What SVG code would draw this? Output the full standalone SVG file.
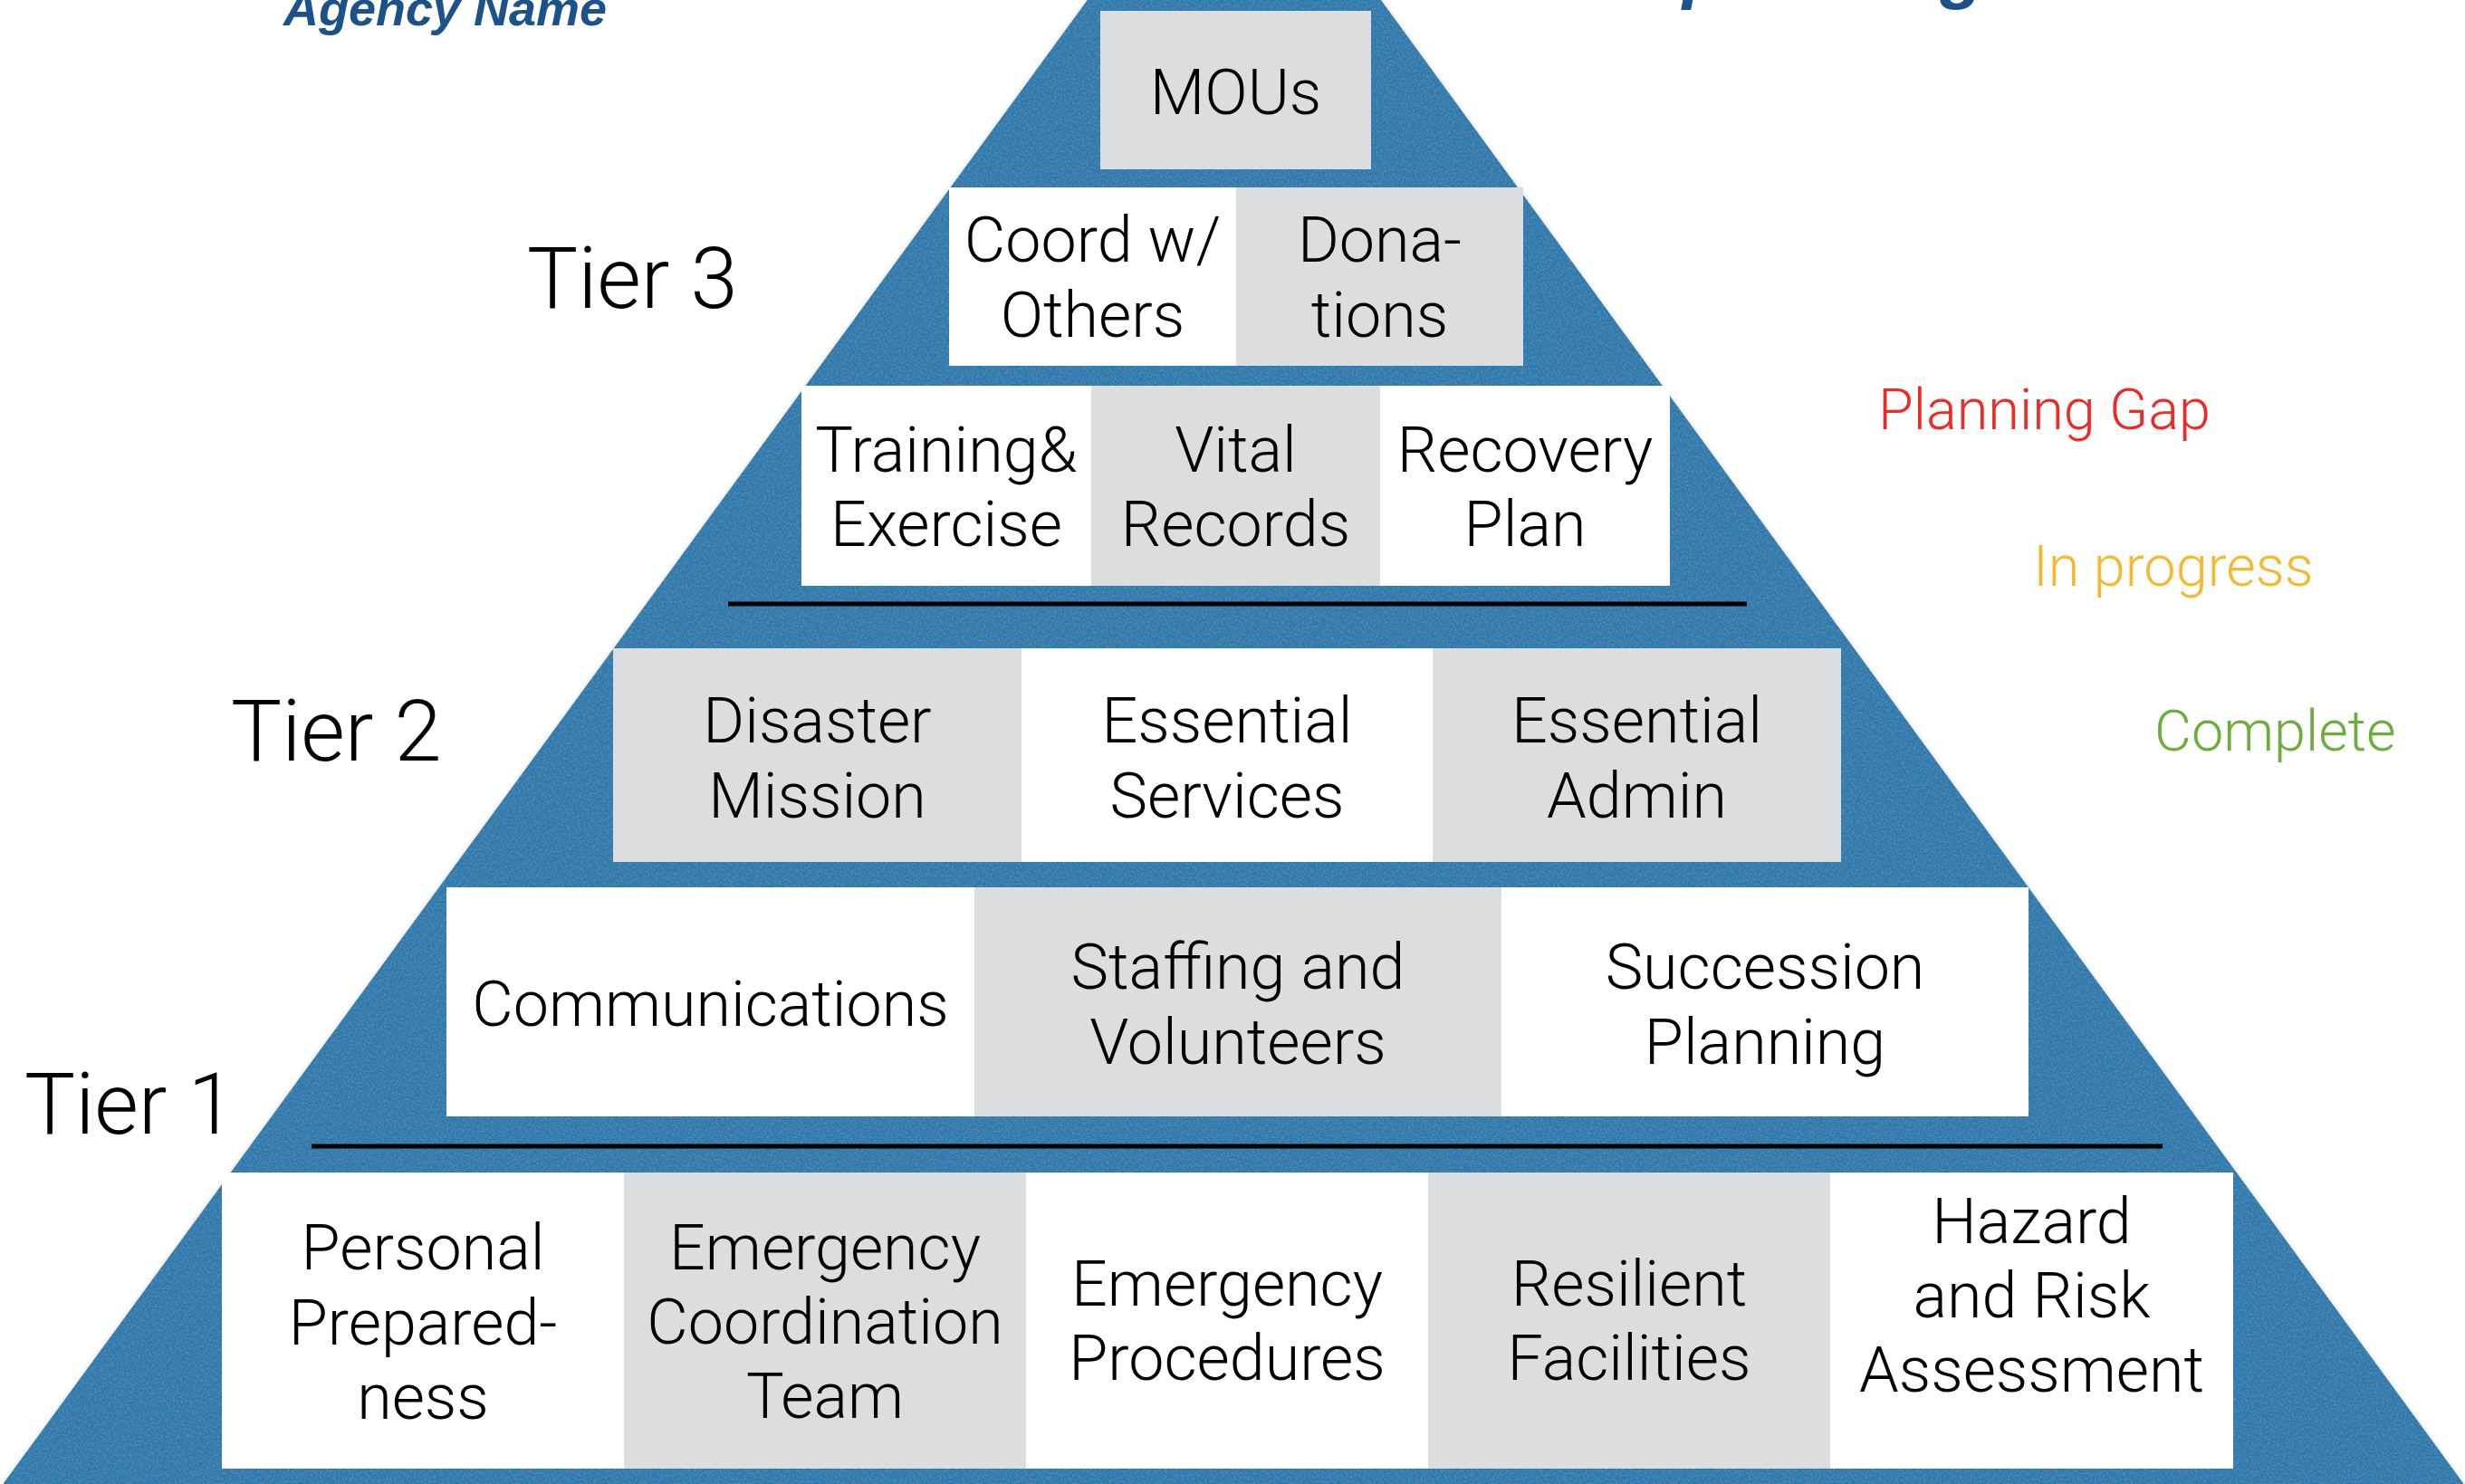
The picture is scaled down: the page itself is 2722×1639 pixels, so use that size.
<svg xmlns="http://www.w3.org/2000/svg" width="2722" height="1639" viewBox="0 0 2722 1639">
<defs>
<style>
.w{fill:#FFFFFF}
.g{fill:#DCDDDF}
.t{font-family:Roboto,"Liberation Sans",Arial,sans-serif;font-weight:300;font-size:70px;fill:#000;text-anchor:middle}
.tier{font-family:Roboto,"Liberation Sans",Arial,sans-serif;font-weight:300;font-size:94px;fill:#000}
.leg{font-family:Roboto,"Liberation Sans",Arial,sans-serif;font-weight:300;font-size:63px}
.title{font-family:"Liberation Sans",Arial,sans-serif;font-weight:bold;font-style:italic;fill:#1B5289}
.div{stroke:#000;stroke-width:5;fill:none}
</style>
<filter id="paper" x="-2%" y="-2%" width="104%" height="104%">
<feTurbulence type="fractalNoise" baseFrequency="0.45" numOctaves="3" seed="7" result="noise"/>
<feColorMatrix in="noise" type="matrix" values="0 0 0 0 1  0 0 0 0 1  0 0 0 0 1  0.18 0 0 0 -0.07" result="speck"/>
<feComposite in="speck" in2="SourceGraphic" operator="in" result="tex"/>
<feDropShadow in="SourceGraphic" dx="0" dy="2" stdDeviation="3" flood-color="#000" flood-opacity="0.22" result="sh"/>
<feMerge><feMergeNode in="sh"/><feMergeNode in="tex"/></feMerge>
</filter>
</defs>
<rect width="2722" height="1639" fill="#FFFFFF"/>

<g id="titles">
<text class="title" x="313" y="28" font-size="54">Agency Name</text>
<text class="title" x="1858" y="-6" font-size="80">planning</text>
</g>

<g id="pyramid">
<polygon points="1363,-222 -12,1660 2736,1660" fill="#2C79AC" filter="url(#paper)"/>
</g>

<g id="dividers">
<line class="div" x1="804" y1="667" x2="1929" y2="667"/>
<line class="div" x1="344" y1="1266" x2="2388" y2="1266"/>
</g>

<g id="node-mous">
<rect class="g" x="1215" y="12" width="299" height="175"/>
<text class="t" x="1364.5" y="126">MOUs</text>
</g>

<g id="node-coord">
<rect class="w" x="1048" y="207" width="317" height="197"/>
<text class="t" x="1206.5" y="289">Coord w/</text>
<text class="t" x="1206.5" y="372">Others</text>
</g>
<g id="node-donations">
<rect class="g" x="1365" y="207" width="317" height="197"/>
<text class="t" x="1523.5" y="289">Dona-</text>
<text class="t" x="1523.5" y="372">tions</text>
</g>

<g id="node-training">
<rect class="w" x="885" y="426" width="320" height="221"/>
<text class="t" x="1045" y="521">Training&amp;</text>
<text class="t" x="1045" y="603">Exercise</text>
</g>
<g id="node-vital">
<rect class="g" x="1205" y="426" width="319" height="221"/>
<text class="t" x="1364.5" y="521">Vital</text>
<text class="t" x="1364.5" y="603">Records</text>
</g>
<g id="node-recovery">
<rect class="w" x="1524" y="426" width="320" height="221"/>
<text class="t" x="1684" y="521">Recovery</text>
<text class="t" x="1684" y="603">Plan</text>
</g>

<g id="node-disaster">
<rect class="g" x="677" y="716" width="451" height="236"/>
<text class="t" x="902.5" y="820">Disaster</text>
<text class="t" x="902.5" y="903">Mission</text>
</g>
<g id="node-services">
<rect class="w" x="1128" y="716" width="454" height="236"/>
<text class="t" x="1355" y="820">Essential</text>
<text class="t" x="1355" y="903">Services</text>
</g>
<g id="node-admin">
<rect class="g" x="1582" y="716" width="451" height="236"/>
<text class="t" x="1807.5" y="820">Essential</text>
<text class="t" x="1807.5" y="903">Admin</text>
</g>

<g id="node-communications">
<rect class="w" x="493" y="980" width="583" height="253"/>
<text class="t" x="784.5" y="1133">Communications</text>
</g>
<g id="node-staffing">
<rect class="g" x="1076" y="980" width="582" height="253"/>
<text class="t" x="1367" y="1092">Staffing and</text>
<text class="t" x="1367" y="1175">Volunteers</text>
</g>
<g id="node-succession">
<rect class="w" x="1658" y="980" width="582" height="253"/>
<text class="t" x="1949" y="1092">Succession</text>
<text class="t" x="1949" y="1175">Planning</text>
</g>

<g id="node-personal">
<rect class="w" x="245" y="1295" width="444" height="327"/>
<text class="t" x="467" y="1402">Personal</text>
<text class="t" x="467" y="1485">Prepared-</text>
<text class="t" x="467" y="1567">ness</text>
</g>
<g id="node-ect">
<rect class="g" x="689" y="1295" width="444" height="327"/>
<text class="t" x="911" y="1402">Emergency</text>
<text class="t" x="911" y="1484">Coordination</text>
<text class="t" x="911" y="1566">Team</text>
</g>
<g id="node-procedures">
<rect class="w" x="1133" y="1295" width="444" height="327"/>
<text class="t" x="1355" y="1442">Emergency</text>
<text class="t" x="1355" y="1524">Procedures</text>
</g>
<g id="node-facilities">
<rect class="g" x="1577" y="1295" width="444" height="327"/>
<text class="t" x="1799" y="1442">Resilient</text>
<text class="t" x="1799" y="1524">Facilities</text>
</g>
<g id="node-hazard">
<rect class="w" x="2021" y="1295" width="445" height="327"/>
<text class="t" x="2243.5" y="1373">Hazard</text>
<text class="t" x="2243.5" y="1455">and Risk</text>
<text class="t" x="2243.5" y="1537">Assessment</text>
</g>

<g id="tier-labels">
<text class="tier" x="582" y="340">Tier 3</text>
<text class="tier" x="255" y="840">Tier 2</text>
<text class="tier" x="27" y="1252">Tier 1</text>
</g>

<g id="legend">
<text class="leg" x="2074" y="474" fill="#EE2A26">Planning Gap</text>
<text class="leg" x="2245" y="647" fill="#F6B831">In progress</text>
<text class="leg" x="2379" y="829" fill="#6BAE3A">Complete</text>
</g>
</svg>
